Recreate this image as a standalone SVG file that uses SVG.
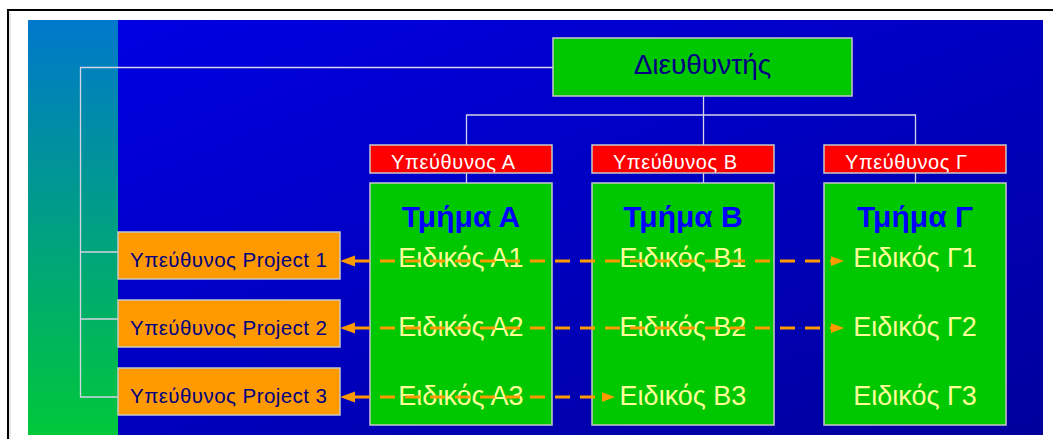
<svg xmlns="http://www.w3.org/2000/svg" width="1053" height="439" viewBox="0 0 1053 439">
<defs>
<linearGradient id="bg" x1="0" y1="0" x2="1" y2="1">
<stop offset="0" stop-color="#0000E6"/>
<stop offset="1" stop-color="#00009C"/>
</linearGradient>
<linearGradient id="strip" x1="0" y1="0" x2="0" y2="1">
<stop offset="0" stop-color="#0078CC"/>
<stop offset="1" stop-color="#00C83A"/>
</linearGradient>
<marker id="arrL" markerUnits="userSpaceOnUse" markerWidth="16" markerHeight="12" refX="0" refY="5.5" orient="auto-start-reverse" viewBox="0 0 16 11">
<path d="M15,5.5 L0,0 L0,11 Z" fill="#FF9900"/>
</marker>
<marker id="arrR" markerUnits="userSpaceOnUse" markerWidth="13" markerHeight="10" refX="0" refY="4.5" orient="auto" viewBox="0 0 12 9">
<path d="M0,0 L12,4.5 L0,9 Z" fill="#FF9900"/>
</marker>
<style>
text{font-family:"Liberation Sans","DejaVu Sans",Arial,sans-serif}
.box{stroke:#C8C8C8;stroke-width:1.5}
.green{fill:#00C800}
.red{fill:#FF0000}
.orange{fill:#FF9900}
.tree{stroke:#D4D4E4;stroke-width:1.3;fill:none}
.dash{stroke:#FF9900;stroke-width:3;stroke-dasharray:15 10;fill:none}
.dir{font-size:28px;fill:#000080;text-anchor:middle}
.resp{font-size:20px;fill:#FFFFFF}
.proj{font-size:20.5px;fill:#000080}
.dept{font-size:30px;font-weight:bold;fill:#0000FF;text-anchor:middle}
.spec{font-size:27px;fill:#FFFF99;text-anchor:middle}
</style>
</defs>
<rect x="0" y="0" width="1053" height="439" fill="#FFFFFF"/>
<path d="M8,439 V10 H1053" fill="none" stroke="#000000" stroke-width="2"/>
<line x1="10" y1="12" x2="10" y2="439" stroke="#D0D0D0" stroke-width="1"/>
<rect x="28" y="20" width="1015" height="415" fill="url(#bg)"/>
<rect x="28" y="20" width="90" height="415" fill="url(#strip)"/>

<g id="connectors">
<path class="tree" d="M553,67.5 H80.5 V397 H118 M80.5,252 H118 M80.5,319 H118"/>
<path class="tree" d="M703.5,96 V145 M466.5,145 V115 H915.5 V145"/>
<path class="tree" d="M466.5,173 V183 M703.5,173 V183 M915.5,173 V183"/>
</g>

<g id="director">
<rect class="box green" x="553" y="38" width="299" height="58"/>
<text class="dir" x="702.5" y="74">Διευθυντής</text>
</g>

<g id="resp-a">
<rect class="box red" x="370" y="145" width="182" height="28"/>
<text class="resp" x="391" y="169" textLength="124">Υπεύθυνος Α</text>
</g>
<g id="resp-b">
<rect class="box red" x="592" y="145" width="182" height="28"/>
<text class="resp" x="613" y="169" textLength="124">Υπεύθυνος Β</text>
</g>
<g id="resp-g">
<rect class="box red" x="824" y="145" width="182" height="28"/>
<text class="resp" x="845" y="169" textLength="122">Υπεύθυνος Γ</text>
</g>

<g id="dept-a">
<rect class="box green" x="370" y="183" width="182" height="242"/>
<text class="dept" x="461" y="227">Τμήμα Α</text>
<text class="spec" x="461" y="267">Ειδικός Α1</text>
<text class="spec" x="461" y="336">Ειδικός Α2</text>
<text class="spec" x="461" y="405">Ειδικός Α3</text>
</g>
<g id="dept-b">
<rect class="box green" x="592" y="183" width="182" height="242"/>
<text class="dept" x="683" y="227">Τμήμα Β</text>
<text class="spec" x="683" y="267">Ειδικός Β1</text>
<text class="spec" x="683" y="336">Ειδικός Β2</text>
<text class="spec" x="683" y="405">Ειδικός Β3</text>
</g>
<g id="dept-g">
<rect class="box green" x="824" y="183" width="182" height="242"/>
<text class="dept" x="915" y="227">Τμήμα Γ</text>
<text class="spec" x="915" y="267">Ειδικός Γ1</text>
<text class="spec" x="915" y="336">Ειδικός Γ2</text>
<text class="spec" x="915" y="405">Ειδικός Γ3</text>
</g>

<g id="project-1">
<rect class="box orange" x="118" y="232" width="222" height="47"/>
<text class="proj" x="130" y="267" textLength="197">Υπεύθυνος Project 1</text>
</g>
<g id="project-2">
<rect class="box orange" x="118" y="300" width="222" height="47"/>
<text class="proj" x="130" y="335" textLength="197">Υπεύθυνος Project 2</text>
</g>
<g id="project-3">
<rect class="box orange" x="118" y="368" width="222" height="47"/>
<text class="proj" x="130" y="403" textLength="197">Υπεύθυνος Project 3</text>
</g>

<g id="links">
<path class="dash" d="M355,261 H831" marker-start="url(#arrL)" marker-end="url(#arrR)"/>
<path class="dash" d="M355,328 H831" marker-start="url(#arrL)" marker-end="url(#arrR)"/>
<path class="dash" d="M355,397 H602" marker-start="url(#arrL)" marker-end="url(#arrR)"/>
</g>
</svg>
